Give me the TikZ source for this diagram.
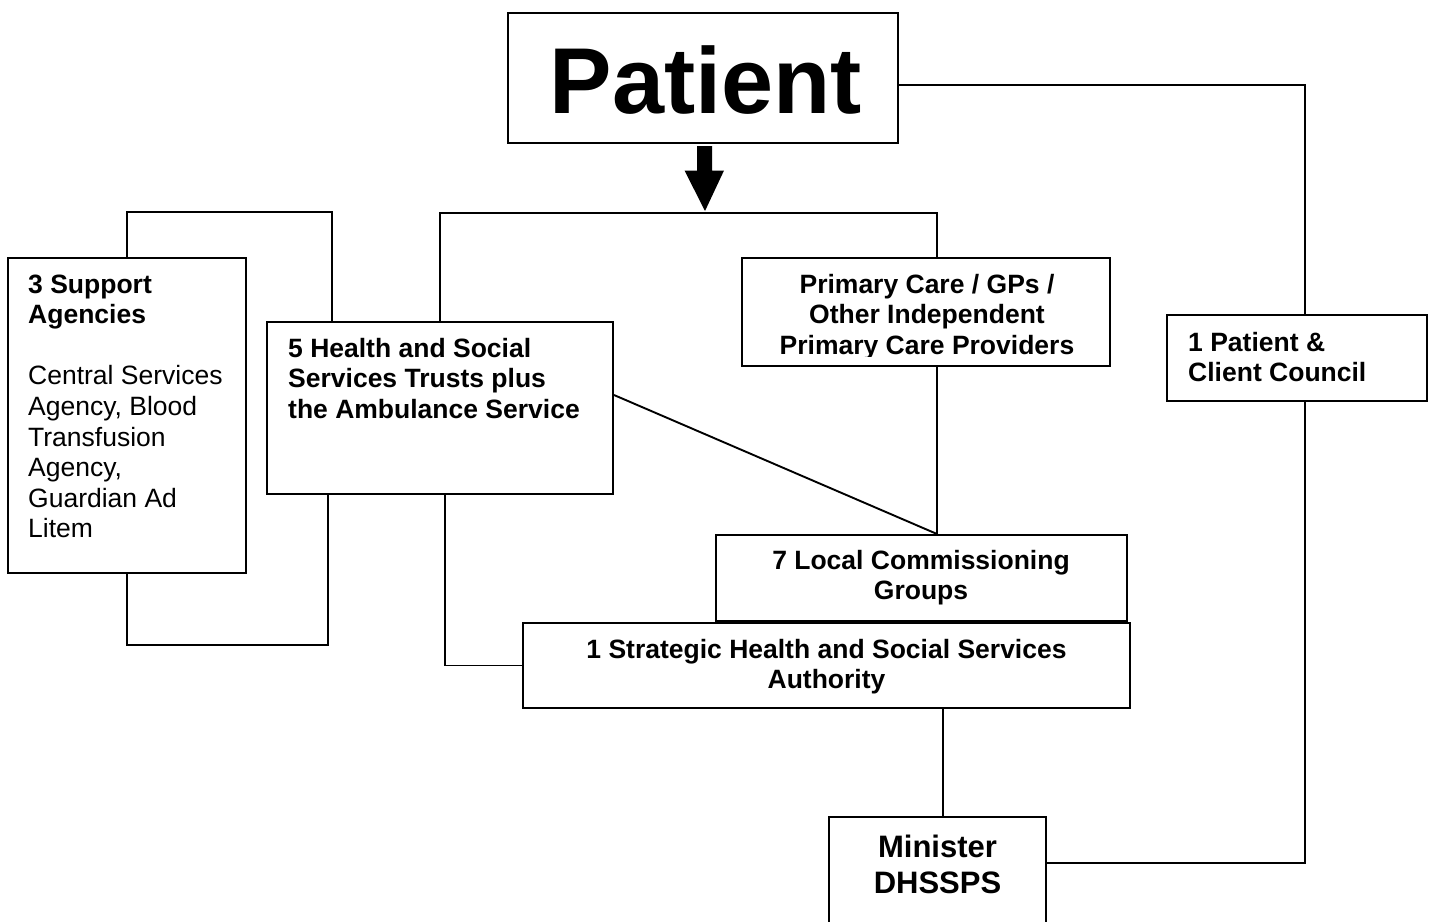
\documentclass[tikz,border=0pt]{standalone}
\usepackage{fontspec}
\setmainfont{Liberation Sans}
\usetikzlibrary{calc}
\begin{document}
\begin{tikzpicture}[x=1bp,y=-1bp,
  box/.style={draw, line width=2bp, inner sep=0pt, rectangle},
  conn/.style={line width=1.9bp},
  txt/.style={inner sep=0pt, font=\fontsize{26.5bp}{30.6bp}\selectfont},
  btxt/.style={inner sep=0pt, font=\fontsize{26.5bp}{30.6bp}\selectfont\bfseries}]
\clip (0,0) rectangle (1432,921);
% boxes
\node[box, minimum width=390bp, minimum height=130bp] (pat) at (703,78) {};
\node[box, minimum width=238bp, minimum height=315bp] (sa) at (127,415.5) {};
\node[box, minimum width=346bp, minimum height=172bp] (hss) at (440,408) {};
\node[box, minimum width=368bp, minimum height=108bp] (pc) at (926,312) {};
\node[box, minimum width=260bp, minimum height=86bp] (ppc) at (1297,358) {};
\node[box, minimum width=411bp, minimum height=86bp] (lcg) at (921.5,578) {};
\node[box, minimum width=607bp, minimum height=85bp] (sh) at (826.5,665.5) {};
\node[box, minimum width=217bp, minimum height=113bp] (min) at (937.5,873.5) {};
% texts
\node[inner sep=0pt, anchor=base, font=\fontsize{93.6bp}{100bp}\selectfont\bfseries] (patT) at (706,113) {Patient};
\node[txt, anchor=base west] (saT) at (28,293) {\begin{tabular}[t]{@{}l@{}}\textbf{3 Support}\\\textbf{Agencies}\\ \\Central Services\\Agency, Blood\\Transfusion\\Agency,\\Guardian Ad\\Litem\end{tabular}};
\node[btxt, anchor=base west] (hssT) at (288,357) {\begin{tabular}[t]{@{}l@{}}5 Health and Social\\Services Trusts plus\\the Ambulance Service\end{tabular}};
\begin{scope}
\clip (742,258) rectangle (1110,356);
\node[btxt, anchor=base] (pcT) at (927,293) {\begin{tabular}[t]{@{}c@{}}Primary Care / GPs /\\Other Independent\\Primary Care Providers\end{tabular}};
\end{scope}
\node[btxt, anchor=base west] (ppcT) at (1188,351) {\begin{tabular}[t]{@{}l@{}}1 Patient \&\\Client Council\end{tabular}};
\node[btxt, anchor=base] (lcgT) at (921,569) {\begin{tabular}[t]{@{}c@{}}7 Local Commissioning\\Groups\end{tabular}};
\node[btxt, anchor=base] (shT) at (826.5,658) {\begin{tabular}[t]{@{}c@{}}1 Strategic Health and Social Services\\Authority\end{tabular}};
\node[inner sep=0pt, anchor=base, font=\fontsize{31bp}{36bp}\selectfont\bfseries] (minT) at (937.5,857) {\begin{tabular}[t]{@{}c@{}}Minister\\DHSSPS\end{tabular}};
% block arrow
\fill (697,146) -- (712,146) -- (712,170.5) -- (724,170.5) -- (705,211) -- (684.5,170.5) -- (697,170.5) -- cycle;
% helper coordinates
\coordinate (bar) at (705,213);
\coordinate (c2) at (332,212);
\coordinate (c3) at (328,645);
\coordinate (c5) at (1305,863);
\coordinate (y85) at (0,85);
\coordinate (lcgtop) at ([xshift=15.5bp]lcg.north);
% connectors
\draw[conn] (hss.north) |- (bar) -| ([xshift=11bp]pc.north);
\draw[conn] (sa.north) |- (c2) -- (c2 |- hss.north);
\draw[conn] (sa.south) |- (c3) -- (c3 |- hss.south);
\draw[conn] ([xshift=5bp]hss.south) |- (sh.west);
\draw[conn] ([yshift=13bp]hss.east) -- (lcgtop);
\draw[conn] ([xshift=11bp]pc.south) -- (lcgtop);
\draw[conn] (pat.east |- y85) -| ([xshift=8bp]ppc.north);
\draw[conn] (min.east |- c5) -| ([xshift=8bp]ppc.south);
\draw[conn] ([xshift=5.5bp]min.north) -- ([xshift=5.5bp]min.north |- sh.south);
\end{tikzpicture}
\end{document}
